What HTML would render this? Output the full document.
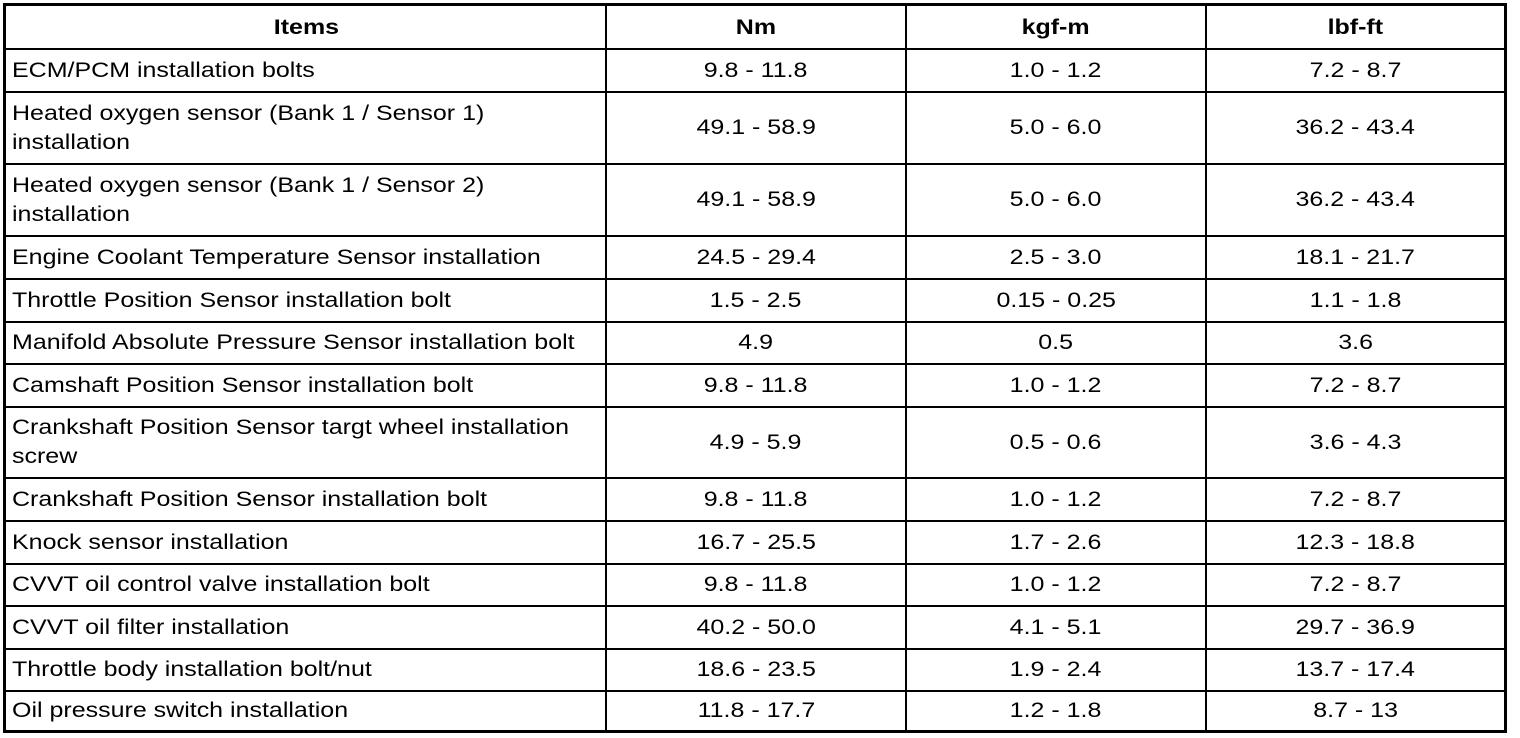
<!DOCTYPE html>
<html><head><style>
body{margin:0;width:1520px;height:738px;background:#fff;position:relative;overflow:hidden;font-family:"Liberation Sans",Arial,sans-serif;font-size:21px;color:#000}
.b{position:absolute;background:#000}
.t{position:absolute;display:flex;align-items:center;line-height:29px}
.t span{display:inline-block;white-space:nowrap;transform:scaleX(1.19)}
.l span{transform-origin:left center}
.c{justify-content:center;text-align:center}
.c span{transform-origin:center center}
.h{font-weight:bold}
</style></head><body>
<div class="b" style="left:3px;top:3px;width:1504px;height:3px"></div>
<div class="b" style="left:3px;top:730px;width:1504px;height:3px"></div>
<div class="b" style="left:3px;top:3px;width:3px;height:730px"></div>
<div class="b" style="left:1504px;top:3px;width:3px;height:730px"></div>
<div class="b" style="left:605px;top:3px;width:2px;height:730px"></div>
<div class="b" style="left:905px;top:3px;width:2px;height:730px"></div>
<div class="b" style="left:1205px;top:3px;width:2px;height:730px"></div>
<div id="rows"></div>
<script>
var ys=[6,48,91,163,235,278,321,363,406,477,520,563,605,648,690,730];
var d=[["Items","Nm","kgf-m","lbf-ft"],
["ECM/PCM installation bolts","9.8 - 11.8","1.0 - 1.2","7.2 - 8.7"],
["Heated oxygen sensor (Bank 1 / Sensor 1)<br>installation","49.1 - 58.9","5.0 - 6.0","36.2 - 43.4"],
["Heated oxygen sensor (Bank 1 / Sensor 2)<br>installation","49.1 - 58.9","5.0 - 6.0","36.2 - 43.4"],
["Engine Coolant Temperature Sensor installation","24.5 - 29.4","2.5 - 3.0","18.1 - 21.7"],
["Throttle Position Sensor installation bolt","1.5 - 2.5","0.15 - 0.25","1.1 - 1.8"],
["Manifold Absolute Pressure Sensor installation bolt","4.9","0.5","3.6"],
["Camshaft Position Sensor installation bolt","9.8 - 11.8","1.0 - 1.2","7.2 - 8.7"],
["Crankshaft Position Sensor targt wheel installation<br>screw","4.9 - 5.9","0.5 - 0.6","3.6 - 4.3"],
["Crankshaft Position Sensor installation bolt","9.8 - 11.8","1.0 - 1.2","7.2 - 8.7"],
["Knock sensor installation","16.7 - 25.5","1.7 - 2.6","12.3 - 18.8"],
["CVVT oil control valve installation bolt","9.8 - 11.8","1.0 - 1.2","7.2 - 8.7"],
["CVVT oil filter installation","40.2 - 50.0","4.1 - 5.1","29.7 - 36.9"],
["Throttle body installation bolt/nut","18.6 - 23.5","1.9 - 2.4","13.7 - 17.4"],
["Oil pressure switch installation","11.8 - 17.7","1.2 - 1.8","8.7 - 13"]];
var xs=[6,606,906,1206,1505],h="";
for(var i=0;i<d.length;i++){
 var y0=ys[i]+1,y1=ys[i+1];
 if(i>0)h+='<div class="b" style="left:6px;top:'+ys[i]+'px;width:1500px;height:2px"></div>';
 for(var j=0;j<4;j++){
  var left=(j==0&&i>0);
  var cls='t'+(left?' l':' c')+(i==0?' h':'');
  var l=xs[j]+(left?6:0);
  h+='<div class="'+cls+'" style="left:'+l+'px;top:'+y0+'px;width:'+(xs[j+1]-l)+'px;height:'+(y1-y0)+'px"><span>'+d[i][j]+'</span></div>';
 }
}
document.getElementById('rows').innerHTML=h;
</script>
</body></html>
